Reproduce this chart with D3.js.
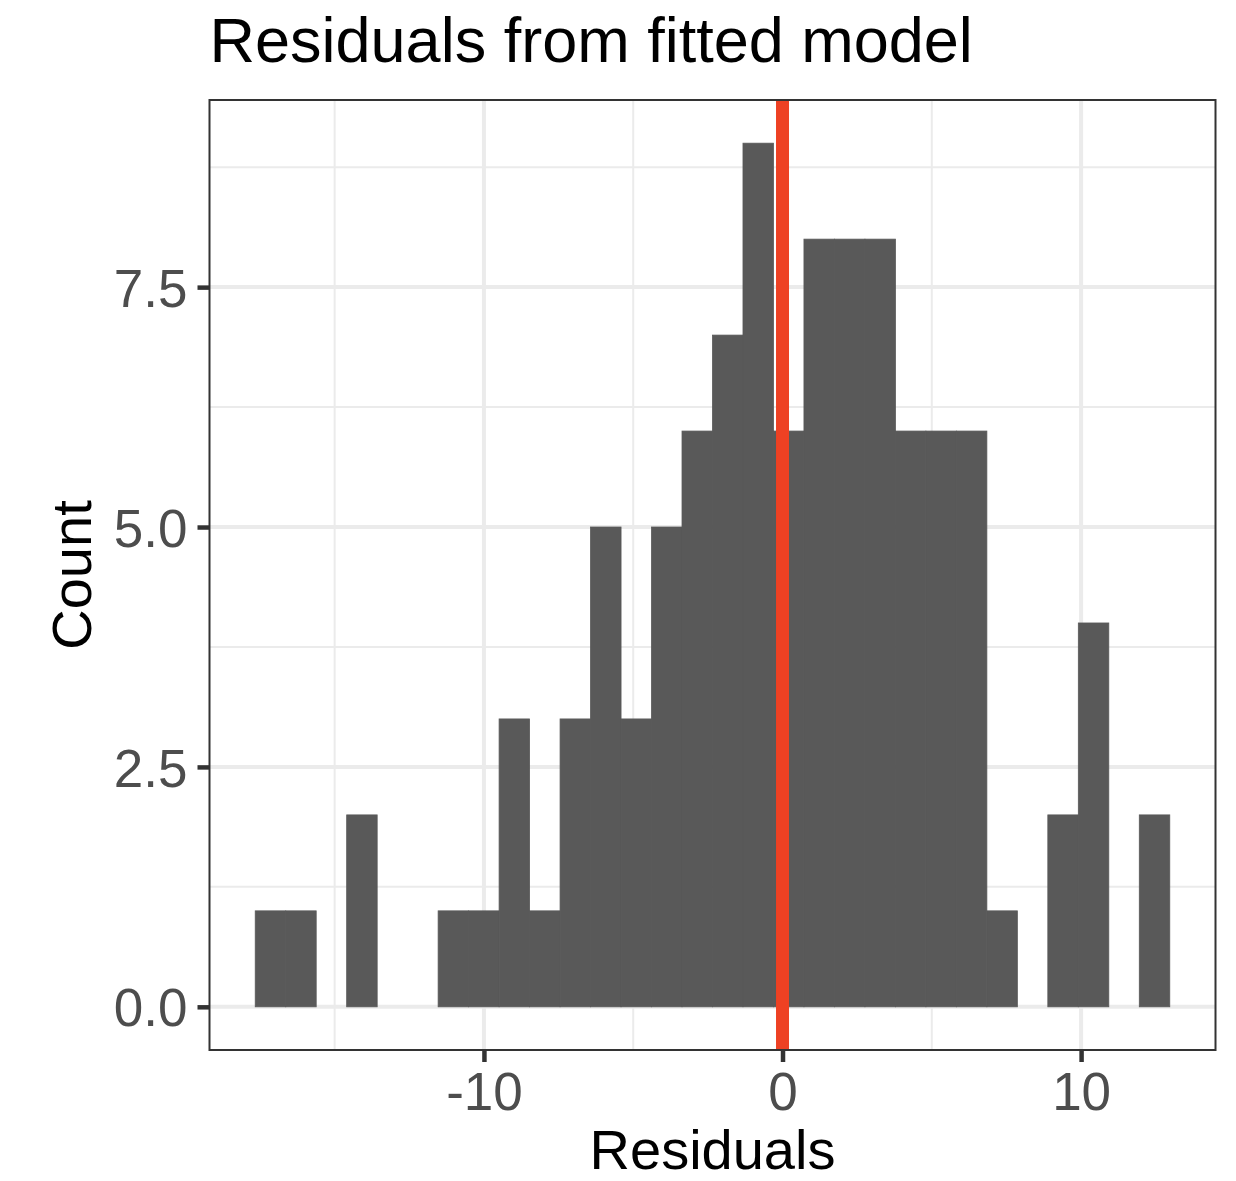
<!DOCTYPE html>
<html>
<head>
<meta charset="utf-8">
<script src="https://cdn.jsdelivr.net/npm/d3@7"></script>
<style>
  body { margin: 0; background: #fff; }
  text { font-family: "Liberation Sans", Arial, Helvetica, sans-serif; }
</style>
</head>
<body>
<div id="chart"></div>
<script>
// histogram bins (30 bins, ggplot default)
const binStart = -17.66;
const binWidth = 1.021;
const counts = [1, 1, 0, 2, 0, 0, 1, 1, 3, 1, 3, 5, 3, 5, 6, 7, 9, 6, 8, 8, 8, 6, 6, 6, 1, 0, 2, 4, 0, 2];
const xMajor = [-10, 0, 10];
const xMinor = [-15, -5, 5];
const yMajor = [0, 2.5, 5, 7.5];
const yMinor = [1.25, 3.75, 6.25, 8.75];
const vlineAt = 0;

const width = 1236, height = 1181;
const panel = { left: 209.5, right: 1215.5, top: 100, bottom: 1050 };

const bins = counts.map((c, i) => ({
    x0: binStart + i * binWidth,
    x1: binStart + (i + 1) * binWidth,
    count: c
}));

const xLo = bins[0].x0, xHi = bins[bins.length - 1].x1;
const xPad = (xHi - xLo) * 0.05;
const yMax = d3.max(counts);

const x = d3.scaleLinear().domain([xLo - xPad, xHi + xPad]).range([panel.left, panel.right]);
const y = d3.scaleLinear().domain([-yMax * 0.05, yMax * 1.05]).range([panel.bottom, panel.top]);

const svg = d3.select("#chart").append("svg")
    .attr("width", width)
    .attr("height", height);

// grid
const grid = svg.append("g").attr("stroke", "#ebebeb");
grid.selectAll(".xmin").data(xMinor).join("line")
    .attr("x1", d => x(d)).attr("x2", d => x(d))
    .attr("y1", panel.top).attr("y2", panel.bottom)
    .attr("stroke-width", 2);
grid.selectAll(".ymin").data(yMinor).join("line")
    .attr("y1", d => y(d)).attr("y2", d => y(d))
    .attr("x1", panel.left).attr("x2", panel.right)
    .attr("stroke-width", 2);
grid.selectAll(".xmaj").data(xMajor).join("line")
    .attr("x1", d => x(d)).attr("x2", d => x(d))
    .attr("y1", panel.top).attr("y2", panel.bottom)
    .attr("stroke-width", 4);
grid.selectAll(".ymaj").data(yMajor).join("line")
    .attr("y1", d => y(d)).attr("y2", d => y(d))
    .attr("x1", panel.left).attr("x2", panel.right)
    .attr("stroke-width", 4);

// bars
svg.append("g").selectAll("rect")
    .data(bins.filter(b => b.count > 0))
    .join("rect")
    .attr("x", d => x(d.x0))
    .attr("width", d => x(d.x1) - x(d.x0))
    .attr("y", d => y(d.count))
    .attr("height", d => y(0) - y(d.count))
    .attr("fill", "#595959")
    .attr("stroke", "#595959")
    .attr("stroke-width", 0.8);

// vertical reference line
svg.append("line")
    .attr("x1", x(vlineAt)).attr("x2", x(vlineAt))
    .attr("y1", panel.top).attr("y2", panel.bottom)
    .attr("stroke", "#ee4123").attr("stroke-width", 13);

// panel border
svg.append("rect")
    .attr("x", panel.left).attr("y", panel.top)
    .attr("width", panel.right - panel.left)
    .attr("height", panel.bottom - panel.top)
    .attr("fill", "none").attr("stroke", "#333333").attr("stroke-width", 2);

// axes
const xAxis = svg.append("g")
    .attr("transform", `translate(0,${panel.bottom})`)
    .call(d3.axisBottom(x).tickValues(xMajor).tickSize(12).tickFormat(d => String(d)));
const yAxis = svg.append("g")
    .attr("transform", `translate(${panel.left},0)`)
    .call(d3.axisLeft(y).tickValues(yMajor).tickSize(12).tickFormat(d => d.toFixed(1)));

[xAxis, yAxis].forEach(a => {
    a.select(".domain").remove();
    a.selectAll(".tick line").attr("stroke", "#333333").attr("stroke-width", 4.5);
    a.selectAll(".tick text")
        .attr("fill", "#4d4d4d")
        .style("font-size", "53px")
        .style("font-family", "'Liberation Sans', Arial, Helvetica, sans-serif");
});
xAxis.selectAll(".tick text").attr("y", 60).attr("dy", 0);
yAxis.selectAll(".tick text").attr("x", -22).attr("dy", "0.36em");

// titles
svg.append("text")
    .attr("x", panel.left)
    .attr("y", 62)
    .attr("fill", "#000")
    .style("font-size", "63px")
    .text("Residuals from fitted model");

svg.append("text")
    .attr("x", (panel.left + panel.right) / 2)
    .attr("y", 1169)
    .attr("text-anchor", "middle")
    .attr("fill", "#000")
    .style("font-size", "56px")
    .text("Residuals");

svg.append("text")
    .attr("transform", `translate(91,${(panel.top + panel.bottom) / 2}) rotate(-90)`)
    .attr("text-anchor", "middle")
    .attr("fill", "#000")
    .style("font-size", "56px")
    .text("Count");
</script>
</body>
</html>
